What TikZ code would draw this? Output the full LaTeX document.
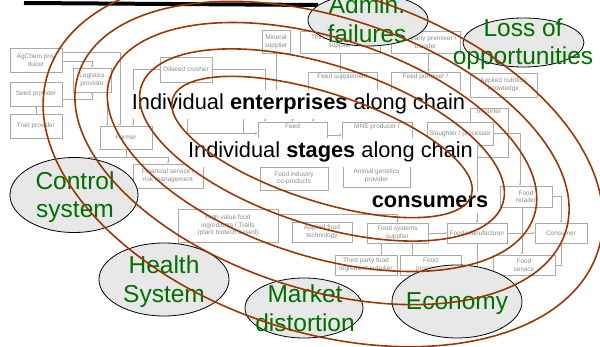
\documentclass[tikz,border=0pt]{standalone}
\usepackage{fontspec}
\setmainfont{Liberation Sans}
\usetikzlibrary{shapes.geometric,arrows.meta}
\definecolor{ringbrown}{RGB}{155,55,5}
\definecolor{boxgray}{RGB}{170,170,170}
\definecolor{txtgray}{RGB}{140,140,140}
\definecolor{labgreen}{RGB}{0,112,0}
\definecolor{ellfill}{RGB}{232,232,232}
\begin{document}
\begin{tikzpicture}[x=1pt,y=1pt,
  fbox/.style={draw=boxgray, fill=white, line width=0.6pt, inner sep=0pt, align=center, text=txtgray, font=\fontsize{6.5}{7.5}\selectfont},
  lbltop/.style={anchor=north, inner sep=1.5pt, text=txtgray, font=\fontsize{6.5}{7.5}\selectfont},
  conn/.style={draw=boxgray, line width=0.6pt, -{Stealth[length=2.5pt,width=2.5pt]}},
  plainconn/.style={draw=boxgray, line width=0.6pt},
  bigtxt/.style={fill=white, inner xsep=4pt, inner ysep=4.5pt, anchor=base, font=\fontsize{21.8}{24}\selectfont},
  greyell/.style={ellipse, draw=black, line width=0.8pt, fill=ellfill, inner sep=0pt},
  glab/.style={anchor=base, text=labgreen, font=\fontsize{24.5}{28}\selectfont, inner sep=0pt},
  ring/.style={draw=ringbrown, line width=1.6pt},
]
\useasboundingbox (0,0) rectangle (600,-347);
\clip (0,0) rectangle (600,-347);

% ---------- background flow chart ----------
\node[fbox, minimum width=52pt, minimum height=24pt] (agchem) at (36,-60) {AgChem pro-\\ducer};
\node[fbox, minimum width=38pt, minimum height=24pt] (logist) at (92,-80) {Logistics\\provider};
\node[fbox, minimum width=52pt, minimum height=24pt] (seed) at (36,-94) {Seed provider};
\node[fbox, minimum width=52pt, minimum height=24pt] (trait) at (36,-126) {Trait provider};
\node[fbox, minimum width=52pt, minimum height=23pt] (farmer) at (126,-137.5) {Farmer};
\node[fbox, minimum width=52pt, minimum height=25pt] (oilseed) at (186,-69.5) {Oilseed crusher};
\node[fbox, minimum width=28pt, minimum height=23pt] (mineral) at (276,-42) {Mineral\\supplier};
\node[fbox, minimum width=80pt, minimum height=22pt] (tpsup) at (340,-42) {Third party mineral /\\supplier};
\node[fbox, minimum width=69pt, minimum height=22pt] (tppre) at (425.5,-42) {Third party premixer /\\blender};
\node[fbox, minimum width=69pt, minimum height=26pt, label={[lbltop]north:Feed supplement}] (feedsup) at (342.5,-85) {};
\node[fbox, minimum width=69pt, minimum height=26pt, label={[lbltop]north:Feed premixer /}] (feedpre) at (425.5,-85) {};
\node[fbox, minimum width=67pt, minimum height=24pt] (appnut) at (503.5,-85) {Applied nutrition\\knowledge};
\node[fbox, minimum width=38pt, minimum height=49pt, label={[lbltop]north:Importer}] (importer) at (489,-132.5) {};
\node[fbox, minimum width=66pt, minimum height=23pt] (slaughter) at (460,-133.5) {Slaughter / processor};
\node[fbox, minimum width=56pt, minimum height=28pt] (hid) at (215,-119) {};
\node[fbox, minimum width=69pt, minimum height=26pt, label={[lbltop]north:Feed}] (feed) at (292.5,-135) {};
\node[fbox, minimum width=70pt, minimum height=26pt, label={[lbltop]north:MNE producer /}] (mne) at (377,-135) {};
\node[fbox, minimum width=70pt, minimum height=24pt] (finserv) at (168,-176) {Financial service /\\risk management};
\node[fbox, minimum width=68pt, minimum height=23pt] (fooind) at (294,-178.5) {Food industry\\co-products};
\node[fbox, minimum width=67pt, minimum height=22pt] (anigen) at (376.5,-176) {Animal genetics\\provider};
\node[fbox, minimum width=100pt, minimum height=33pt] (highval) at (228,-225.5) {High value food\\ingredients / Traits\\(plant biotech based)};
\node[fbox, minimum width=60pt, minimum height=20pt] (appfood) at (322,-232) {Applied food\\technology};
\node[fbox, minimum width=61pt, minimum height=20pt] (foodsys) at (397.5,-233) {Food systems\\supplier};
\node[fbox, minimum width=62pt, minimum height=20pt] (tpfood) at (366,-265) {Third party food\\ingredient supplier};
\node[fbox, minimum width=61pt, minimum height=20pt] (foodproc) at (430.5,-265) {Food\\processor};
\node[fbox, minimum width=60pt, minimum height=20pt] (foodman) at (477,-233) {Food manufacturer};
\node[fbox, minimum width=62pt, minimum height=20pt] (foodserv) at (524,-265) {Food\\service};
\node[fbox, minimum width=52pt, minimum height=20pt] (consumer) at (561,-233) {Consumer};
\node[fbox, minimum width=52pt, minimum height=21pt] (retailer) at (526,-196.5) {Food\\retailer};

\coordinate (fj) at (126,-157);
\coordinate (fjl) at (88,-172);

\draw[conn] ([yshift=8pt]agchem.east) -| ([xshift=-6pt]farmer.north);
\draw[conn] ([yshift=-1pt]agchem.east) -| (logist.north);
\draw[conn] ([yshift=-5pt]seed.east) -| (logist.south);
\draw[conn] (trait.north) -- (seed.south);
\draw[conn] ([xshift=15pt]logist.south) -- ([xshift=15pt]logist.south |- farmer.north);
\draw[conn] (oilseed.west) -| ([xshift=7pt]farmer.north);
\draw[plainconn] (farmer.south) -- (fj);
\draw[conn] (fj) -| (finserv.north);
\draw[plainconn] (fj) -| (fjl);
\draw[conn] (oilseed.east) -| ([xshift=-27.5pt]feed.north);
\draw[conn] (mineral.south) -- ++(0,-50) -| (feed.north);
\draw[conn] (feedsup.south) -- ++(0,-8) -| ([xshift=20.5pt]feed.north);
\draw[conn] (tpsup.south) -- (tpsup.south |- feedsup.north);
\draw[conn] ([xshift=3pt]tppre.south) -- ([xshift=3pt]tppre.south |- feedpre.north);
\draw[conn] (hid.south east) -- (hid.south east -| feed.west);
\draw[conn] (feed.east) -- (mne.west);
\draw[conn] (slaughter.east) -| ([xshift=-6pt]retailer.north);
\draw[conn] ([xshift=17pt]slaughter.south) -- (foodman.north);
\draw[conn] (foodsys.east) -- (foodman.west);
\draw[conn] ([xshift=15pt]tpfood.north) -- ([xshift=15pt]tpfood.north |- foodsys.south);
\draw[conn] ([xshift=-18.5pt]foodproc.north) -- ([xshift=-18.5pt]foodproc.north |- foodsys.south);
\draw[conn] (foodman.east) -- (consumer.west);
\draw[conn] (retailer.east) -| (consumer.north);
\draw[conn] (foodserv.east) -| (consumer.south);
\draw[conn] ([xshift=-4pt]retailer.south) -- ([xshift=-4pt]retailer.south |- foodserv.north);
\draw[plainconn] (foodman.south) -- ++(0,-40);
\draw[conn] ([yshift=11.5pt]highval.east) -| (foodsys.north);

% ---------- black bar ----------
\draw[line width=4pt] (24,-3) -- (318,-5);

% ---------- grey ellipses ----------
\node[greyell, minimum width=120pt, minimum height=52pt] (admin) at (368,-20) {};
\node[glab] (adminA) at (367,-14) {Admin.};
\node[glab] (adminB) at (367,-43) {failures};
\node[greyell, minimum width=121pt, minimum height=49pt] (loss) at (523.5,-42.5) {};
\node[glab] (lossA) at (523,-37) {Loss of};
\node[glab] (lossB) at (523,-65) {opportunities};
\node[greyell, minimum width=128pt, minimum height=75pt] (control) at (74,-195) {};
\node[glab] (controlA) at (75,-190) {Control};
\node[glab] (controlB) at (75,-218) {system};
\node[greyell, minimum width=130pt, minimum height=73pt] (health) at (164,-279.5) {};
\node[glab] (healthA) at (164,-274) {Health};
\node[glab] (healthB) at (164,-303) {System};
\node[greyell, minimum width=118pt, minimum height=60pt] (market) at (304,-308) {};
\node[glab] (marketA) at (305,-303) {Market};
\node[glab] (marketB) at (305,-332) {distortion};
\node[greyell, minimum width=130pt, minimum height=73pt] (economy) at (457,-301.5) {};
\node[glab] (economyA) at (457,-310) {Economy};

% ---------- big texts ----------
\node[bigtxt] (ent) at (298.5,-110) {Individual \textbf{enterprises} along chain};
\node[bigtxt] (stg) at (330.5,-158) {Individual \textbf{stages} along chain};
\node[bigtxt] (cons) at (430,-208) {\textbf{consumers}};

% ---------- rings ----------
\draw[ring, rotate around={-18:(322,-147)}] (322,-147) ellipse [x radius=157pt, y radius=54pt];
\draw[ring, rotate around={-18:(322,-145)}] (322,-145) ellipse [x radius=190pt, y radius=80pt];
\draw[ring, rotate around={-18:(322,-147)}] (322,-147) ellipse [x radius=223pt, y radius=109pt];
\draw[ring, rotate around={-18:(322,-153)}] (322,-153) ellipse [x radius=256pt, y radius=136pt];
\draw[ring, rotate around={-18:(323,-162)}] (323,-162) ellipse [x radius=289pt, y radius=170pt];
\end{tikzpicture}
\end{document}
